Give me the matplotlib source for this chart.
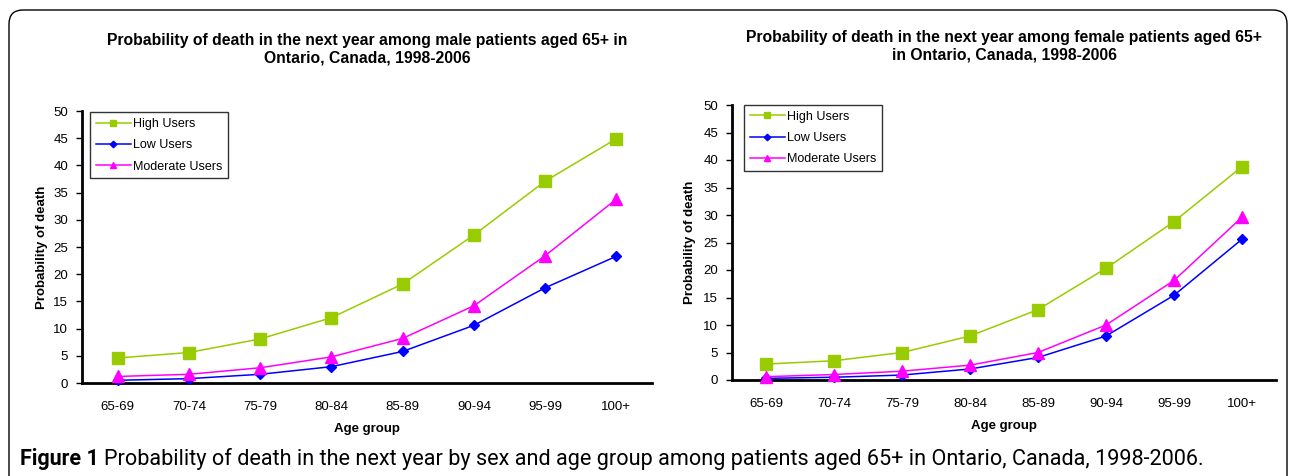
import matplotlib
matplotlib.use("Agg")
import matplotlib.pyplot as plt
from matplotlib.patches import FancyBboxPatch

plt.rcParams['font.family'] = ['Liberation Sans', 'DejaVu Sans']

age_groups = ["65-69", "70-74", "75-79", "80-84", "85-89", "90-94", "95-99", "100+"]

male_high = [4.6, 5.6, 8.1, 12.0, 18.2, 27.2, 37.1, 44.9]
male_low = [0.5, 0.8, 1.6, 3.0, 5.8, 10.6, 17.5, 23.3]
male_moderate = [1.2, 1.6, 2.8, 4.8, 8.2, 14.2, 23.4, 33.8]

female_high = [2.9, 3.5, 5.0, 8.0, 12.8, 20.3, 28.8, 38.8]
female_low = [0.3, 0.5, 0.9, 2.0, 4.1, 8.0, 15.4, 25.6]
female_moderate = [0.6, 1.0, 1.6, 2.7, 5.0, 10.0, 18.1, 29.6]

series_names = ["High Users", "Low Users", "Moderate Users"]
colors = ["#99CC00", "#0000FF", "#FF00FF"]
markers = ["s", "D", "^"]
marker_sizes = [8, 5.5, 8]

W, H = 1290, 476
fig = plt.figure(figsize=(W / 100, H / 100), dpi=100)

# rounded frame around the figure
bg = fig.add_axes([0, 0, 1, 1])
bg.set_xlim(0, W)
bg.set_ylim(H, 0)
bg.axis("off")
bg.add_patch(FancyBboxPatch((9, 10), 1278, 500,
                            boxstyle="round,pad=0,rounding_size=14",
                            fc="none", ec="black", lw=1.0))


def draw_panel(rect, data, title, legend_anchor, title_pad, ylabel_pad):
    ax = fig.add_axes(rect)
    x = list(range(len(age_groups)))
    for vals, name, c, m, ms in zip(data, series_names, colors, markers, marker_sizes):
        ax.plot(x, vals, color=c, marker=m, markersize=ms, lw=1.1,
                label=name, clip_on=False, zorder=3)
    ax.set_xlim(-0.5, len(age_groups) - 0.5)
    ax.set_ylim(0, 50)
    ax.set_yticks(range(0, 51, 5))
    ax.set_xticks(x)
    ax.set_xticklabels(age_groups)
    for s in ["top", "right"]:
        ax.spines[s].set_visible(False)
    for s in ["left", "bottom"]:
        ax.spines[s].set_linewidth(2)
    ax.tick_params(axis="y", length=4, width=1, labelsize=9.5, pad=6)
    ax.tick_params(axis="x", length=0, labelsize=9.5, pad=13)
    ax.set_xlabel("Age group", fontsize=9.5, fontweight="bold", labelpad=7)
    ax.set_ylabel("Probability of death", fontsize=9.5, fontweight="bold",
                  labelpad=ylabel_pad)
    ax.set_title(title, fontsize=11.3, fontweight="bold", pad=title_pad,
                 linespacing=1.2)
    leg = ax.legend(loc="upper left", bbox_to_anchor=legend_anchor, fontsize=9,
                    frameon=True, fancybox=False, edgecolor="black",
                    handlelength=2.8, handletextpad=0.2, labelspacing=0.75,
                    borderpad=0.45, borderaxespad=0, markerscale=0.6)
    leg.get_frame().set_linewidth(1.0)
    return ax


draw_panel([82 / W, 1 - 383 / H, 570 / W, 272 / H],
           [male_high, male_low, male_moderate],
           "Probability of death in the next year among male patients aged 65+ in\nOntario, Canada, 1998-2006",
           (0.014, 0.995), 35, 4)

draw_panel([732 / W, 1 - 380 / H, 544 / W, 275 / H],
           [female_high, female_low, female_moderate],
           "Probability of death in the next year among female patients aged 65+\nin Ontario, Canada, 1998-2006",
           (0.022, 1.0), 33, 5)

# caption: bold lead-in followed by regular text
cap_font = ["Roboto", "DejaVu Sans"]
t1 = fig.text(20 / W, 1 - 459 / H, "Figure 1", fontsize=15.5, fontweight="bold",
              family=cap_font, va="center", ha="left")
renderer = fig.canvas.get_renderer()
bb = t1.get_window_extent(renderer)
fig.text(bb.x1 / W + 5 / W, 1 - 459 / H,
         "Probability of death in the next year by sex and age group among patients aged 65+ in Ontario, Canada, 1998-2006.",
         fontsize=15.6, family=cap_font, va="center", ha="left")

fig.savefig("out.png", dpi=100)
